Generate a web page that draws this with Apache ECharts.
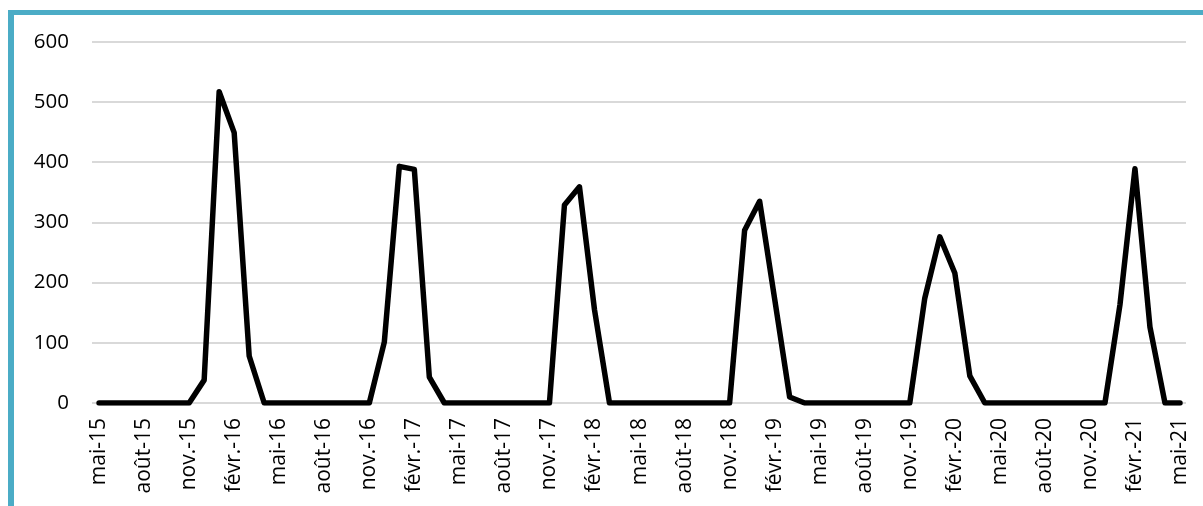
<!DOCTYPE html>
<html>
<head>
<meta charset="utf-8">
<script src="https://cdn.jsdelivr.net/npm/echarts@6/dist/echarts.min.js"></script>
<style>
  html, body { margin: 0; padding: 0; background: #fff; }
  #wrap { position: relative; width: 1203px; height: 506px; overflow: hidden; }
  #chart { position: absolute; left: 0; top: 0; width: 1203px; height: 506px; }
  #frame { position: absolute; left: 8px; top: 10px; width: 1300px; height: 600px;
           border-left: 6px solid #4BACC6; border-top: 5px solid #4BACC6; pointer-events: none; }
</style>
</head>
<body>
<div id="wrap">
  <div id="chart"></div>
  <div id="frame"></div>
</div>
<script>
// Months from mai-15 to mai-21 (one point per month)
const months = [
  'mai-15','juin-15','juil.-15','août-15','sept.-15','oct.-15','nov.-15','déc.-15',
  'janv.-16','févr.-16','mars-16','avr.-16','mai-16','juin-16','juil.-16','août-16','sept.-16','oct.-16','nov.-16','déc.-16',
  'janv.-17','févr.-17','mars-17','avr.-17','mai-17','juin-17','juil.-17','août-17','sept.-17','oct.-17','nov.-17','déc.-17',
  'janv.-18','févr.-18','mars-18','avr.-18','mai-18','juin-18','juil.-18','août-18','sept.-18','oct.-18','nov.-18','déc.-18',
  'janv.-19','févr.-19','mars-19','avr.-19','mai-19','juin-19','juil.-19','août-19','sept.-19','oct.-19','nov.-19','déc.-19',
  'janv.-20','févr.-20','mars-20','avr.-20','mai-20','juin-20','juil.-20','août-20','sept.-20','oct.-20','nov.-20','déc.-20',
  'janv.-21','févr.-21','mars-21','avr.-21','mai-21'
];

const values = [
  0, 0, 0, 0, 0, 0, 0, 38,
  517, 449, 78, 0, 0, 0, 0, 0, 0, 0, 0, 101,
  393, 388, 43, 0, 0, 0, 0, 0, 0, 0, 0, 329,
  359, 155, 0, 0, 0, 0, 0, 0, 0, 0, 0, 287,
  335, 173, 10, 0, 0, 0, 0, 0, 0, 0, 0, 174,
  276, 216, 45, 0, 0, 0, 0, 0, 0, 0, 0, 0,
  163, 389, 126, 0, 0
];

// Every third month carries a label
const labelIdx = [0,3,6,9,12,15,18,21,24,27,30,33,36,39,42,45,48,51,54,57,60,63,66,69,72];

const yTicks = [0, 100, 200, 300, 400, 500, 600];

const chart = echarts.init(document.getElementById('chart'), null, { renderer: 'canvas' });
const font = "'Open Sans', 'Liberation Sans', sans-serif";

chart.setOption({
  animation: false,
  backgroundColor: '#ffffff',
  grid: { left: 92, right: 17, top: 41.7, bottom: 103, containLabel: false },
  xAxis: {
    type: 'value',
    min: -0.47,
    max: 72.4,
    splitLine: { show: false },
    axisLine: { show: false },
    axisTick: { show: false },
    axisLabel: {
      customValues: labelIdx,
      rotate: 90,
      margin: 15,
      color: '#000',
      fontFamily: font,
      fontSize: 21,
      formatter: (v) => months[Math.round(v)] || ''
    }
  },
  yAxis: {
    type: 'value',
    min: yTicks[0],
    max: yTicks[yTicks.length - 1],
    interval: 100,
    axisLine: { show: false },
    axisTick: { show: false },
    splitLine: { lineStyle: { color: '#d9d9d9', width: 2 } },
    axisLabel: {
      margin: 23,
      color: '#000',
      fontFamily: font,
      fontSize: 20.5
    }
  },
  series: [{
    type: 'line',
    data: values.map((v, i) => [i, v]),
    showSymbol: false,
    symbol: 'none',
    lineStyle: { color: '#000', width: 5.5, join: 'round', cap: 'round' },
    z: 5
  }]
});
</script>
</body>
</html>
